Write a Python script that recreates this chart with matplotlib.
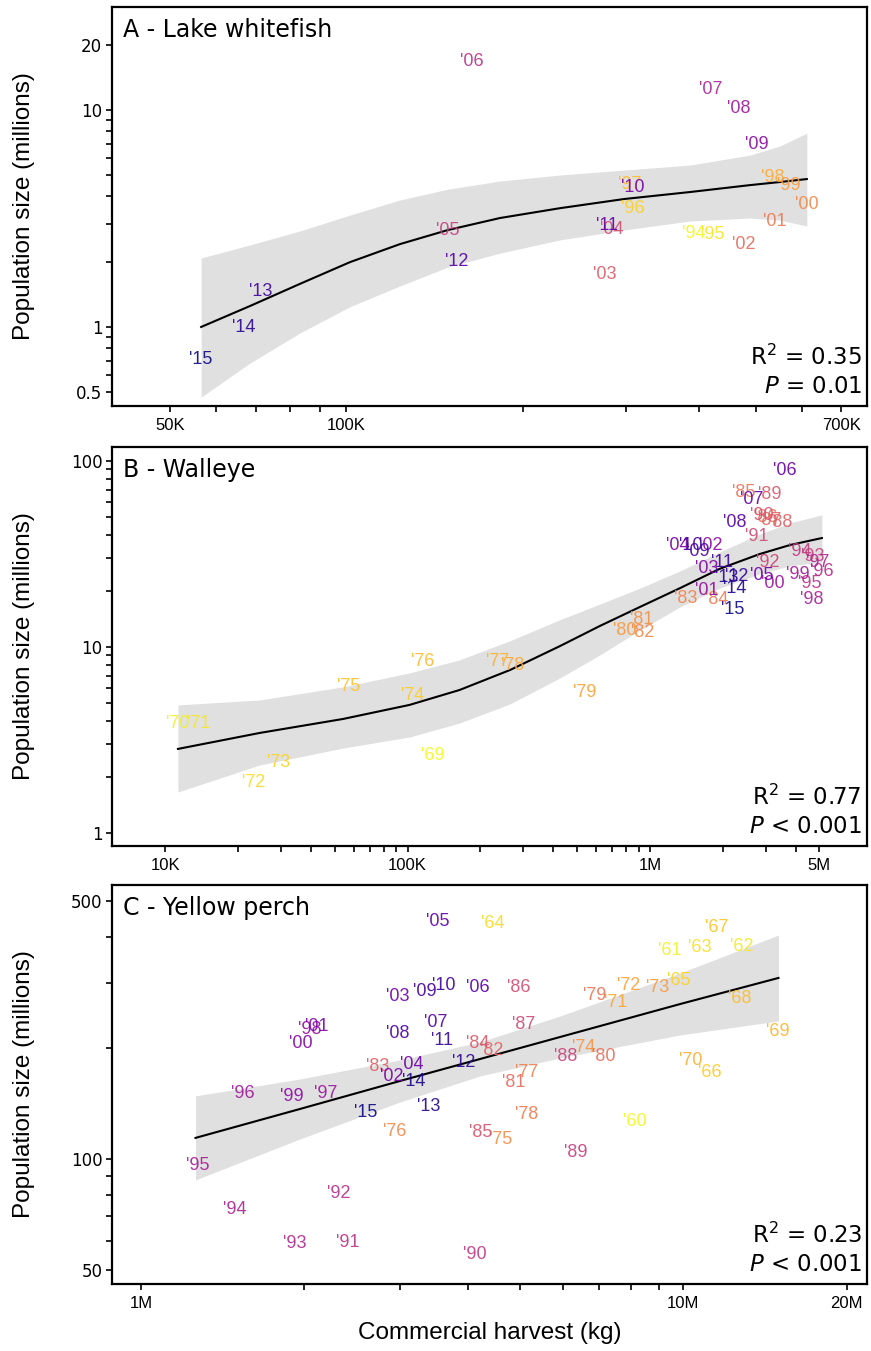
import matplotlib
matplotlib.use('Agg')
import matplotlib.pyplot as plt
import numpy as np
from matplotlib.ticker import FixedLocator, FixedFormatter, NullFormatter

# ---- A: lake whitefish ----
wf_year = list(range(1994, 2016))
wf_harvest = [392e3, 422e3, 308e3, 305e3, 535e3, 569e3, 611e3, 539e3, 477e3, 276e3, 284e3,
              149e3, 164e3, 418e3, 468e3, 502e3, 308e3, 278e3, 154e3, 71.5e3, 66.9e3, 56.5e3]
wf_pop = [2.71, 2.68, 3.53, 4.56, 4.91, 4.47, 3.69, 3.05, 2.41, 1.75, 2.83,
          2.80, 16.8, 12.4, 10.2, 6.97, 4.42, 2.95, 2.01, 1.45, 0.99, 0.705]
wf_fit_x = [56.5e3, 68.5e3, 83.3e3, 101.4e3, 123.4e3, 149.1e3, 182.9e3, 231.5e3,
            297.7e3, 385.8e3, 488.5e3, 549.5e3, 611e3]
wf_fit = [1.00, 1.25, 1.58, 1.99, 2.41, 2.80, 3.18, 3.53, 3.89, 4.19, 4.51, 4.66, 4.81]
wf_hi = [2.08, 2.39, 2.77, 3.28, 3.85, 4.32, 4.71, 5.02, 5.29, 5.58, 6.20, 6.83, 7.83]
wf_lo = [0.475, 0.682, 0.938, 1.24, 1.545, 1.89, 2.19, 2.52, 2.80, 3.08, 3.18, 3.11, 2.92]

# ---- B: walleye ----
we_year = list(range(1969, 2016))
we_harvest = [127e3, 11.3e3, 13.7e3, 23.1e3, 29.5e3, 105e3, 56.9e3, 115e3, 236e3, 272e3, 540e3,
              789e3, 927e3, 935e3, 1.41e6, 1.89e6, 2.44e6, 3.01e6, 3.13e6, 3.47e6, 3.13e6,
              2.90e6, 2.76e6, 3.07e6, 4.70e6, 4.16e6, 4.57e6, 5.12e6, 4.93e6, 4.66e6, 4.08e6,
              3.22e6, 1.72e6, 1.79e6, 1.72e6, 1.30e6, 2.90e6, 3.60e6, 2.63e6, 2.24e6, 1.58e6,
              1.48e6, 1.98e6, 2.28e6, 2.08e6, 2.24e6, 2.20e6]
we_pop = [2.62, 3.90, 3.90, 1.86, 2.38, 5.45, 6.10, 8.30, 8.30, 7.90, 5.66,
          12.3, 14.0, 12.0, 18.3, 17.9, 67.3, 49.4, 47.6, 46.4, 65.6,
          50.6, 39.0, 28.3, 30.5, 32.4, 21.8, 25.3, 28.6, 17.9, 24.4,
          21.8, 20.0, 34.9, 26.3, 34.9, 24.1, 88.3, 61.7, 46.4, 32.4,
          34.9, 28.6, 23.8, 23.5, 20.5, 15.8]
we_fit_x = [11.3e3, 24.6e3, 54.2e3, 102e3, 164e3, 265e3, 425e3, 622e3, 909e3,
            1.33e6, 1.94e6, 2.84e6, 3.78e6, 5.12e6]
we_fit = [2.83, 3.45, 4.10, 4.88, 5.87, 7.52, 10.1, 12.97, 16.4, 20.7, 26.3, 31.6, 35.3, 38.5]
we_hi = [4.88, 5.19, 6.10, 7.25, 8.52, 10.8, 14.0, 17.0, 20.7, 25.6, 32.4, 40.5, 46.4, 51.3]
we_lo = [1.66, 2.32, 2.86, 3.28, 3.90, 4.94, 6.81, 9.06, 12.3, 16.4, 20.7, 24.7, 27.3, 28.6]

# ---- C: yellow perch ----
yp_year = list(range(1960, 2016))
yp_harvest = [8.12e6, 9.42e6, 12.8e6, 10.7e6, 4.46e6, 9.79e6, 11.2e6, 11.5e6, 12.7e6, 14.9e6,
              10.3e6, 7.49e6, 7.92e6, 8.96e6, 6.54e6, 4.60e6, 2.94e6, 5.13e6, 5.15e6, 6.85e6,
              7.12e6, 4.86e6, 4.44e6, 2.73e6, 4.17e6, 4.22e6, 4.97e6, 5.07e6, 6.06e6, 6.32e6,
              4.13e6, 2.41e6, 2.31e6, 1.92e6, 1.49e6, 1.27e6, 1.54e6, 2.19e6, 2.05e6, 1.90e6,
              1.97e6, 2.11e6, 2.90e6, 2.97e6, 3.16e6, 3.52e6, 4.17e6, 3.50e6, 2.97e6, 3.34e6,
              3.61e6, 3.59e6, 3.93e6, 3.39e6, 3.18e6, 2.60e6]
yp_pop = [126, 368, 376, 373, 434, 304, 172, 423, 273, 222,
          185, 265, 296, 292, 200, 113, 119, 171, 132, 277,
          189, 161, 197, 178, 206, 118, 292, 231, 189, 104,
          54.9, 59.2, 80.4, 58.9, 72.7, 95.7, 150, 150, 224, 148,
          205, 228, 167, 275, 180, 441, 291, 234, 219, 285,
          296, 209, 182, 139, 162, 134]
yp_fit_x = [1.26e6, 1.965e6, 3.005e6, 4.22e6, 5.93e6, 9.87e6, 14.97e6]
yp_fit = [114.0, 136.6, 162.7, 186.6, 214.1, 263.0, 309.4]
yp_hi = [148.2, 164.7, 185.5, 207.5, 244.1, 319.2, 404.6]
yp_lo = [87.7, 113.3, 142.7, 167.9, 187.8, 216.8, 236.6]

W, H = 871, 1351
fig = plt.figure(figsize=(W / 100, H / 100), dpi=100)
cmap = plt.cm.plasma


def panel(top, bottom, title, year, harv, pop, fx, fy, fhi, flo, xlim, ylim,
          xmaj, xlab, xmin, ymaj, ylab, ymin, r2, pstr):
    ax = fig.add_axes([112 / W, (H - bottom) / H, 755 / W, (bottom - top) / H])
    ax.set_xscale('log')
    ax.set_yscale('log')
    ax.fill_between(fx, flo, fhi, color='#e0e0e0', lw=0, zorder=1)
    ax.plot(fx, fy, color='black', lw=1.5, zorder=2, solid_joinstyle='round')
    yr = np.array(year)
    t = (yr - yr.min()) / (yr.max() - yr.min())
    for y, x, p, tt in zip(year, harv, pop, t):
        ax.text(x, p, "'%02d" % (y % 100), color=cmap(1 - tt), ha='center', va='center',
                fontsize=13, family='Liberation Sans', alpha=0.9, zorder=3)
    ax.set_xlim(*xlim)
    ax.set_ylim(*ylim)
    ax.xaxis.set_major_locator(FixedLocator(xmaj))
    ax.xaxis.set_major_formatter(FixedFormatter(xlab))
    ax.xaxis.set_minor_locator(FixedLocator(xmin))
    ax.xaxis.set_minor_formatter(NullFormatter())
    ax.yaxis.set_major_locator(FixedLocator(ymaj))
    ax.yaxis.set_major_formatter(FixedFormatter(ylab))
    ax.yaxis.set_minor_locator(FixedLocator(ymin))
    ax.yaxis.set_minor_formatter(NullFormatter())
    ax.tick_params(which='both', length=4, width=1.2, color='black')
    ax.tick_params(axis='x', pad=5, labelsize=12)
    ax.tick_params(axis='y', pad=3, labelsize=12)
    for lb in ax.get_xticklabels():
        lb.set_family('Liberation Sans')
    for lb in ax.get_yticklabels():
        lb.set_family('DejaVu Sans')
    for s in ax.spines.values():
        s.set_linewidth(1.6)
    ax.text(0.0146, 0.972, title, transform=ax.transAxes, ha='left', va='top',
            fontsize=17, family='DejaVu Sans')
    ax.text(0.9934, 0.123, 'R$^2$ = ' + r2, transform=ax.transAxes, ha='right', va='center',
            fontsize=16.5, family='DejaVu Sans')
    ax.text(0.9934, 0.050, '$P$ ' + pstr, transform=ax.transAxes, ha='right', va='center',
            fontsize=16.5, family='DejaVu Sans')
    ax.set_ylabel('Population size (millions)', fontsize=17.5, family='Liberation Sans')
    ax.yaxis.set_label_coords(-0.102, 0.5)
    return ax


panel(7, 406, 'A - Lake whitefish', wf_year, wf_harvest, wf_pop,
      wf_fit_x, wf_fit, wf_hi, wf_lo, (39.8e3, 774e3), (0.432, 29.9),
      [5e4, 1e5, 7e5], ['50K', '100K', '700K'],
      [6e4, 7e4, 8e4, 9e4, 2e5, 3e5, 4e5, 5e5, 6e5],
      [0.5, 1, 10, 20], ['0.5', '1', '10', '20'],
      [0.6, 0.7, 0.8, 0.9, 2, 3, 4, 5, 6, 7, 8, 9],
      '0.35', '= 0.01')

panel(447, 846, 'B - Walleye', we_year, we_harvest, we_pop,
      we_fit_x, we_fit, we_hi, we_lo, (6.04e3, 7.86e6), (0.851, 118.8),
      [1e4, 1e5, 1e6, 5e6], ['10K', '100K', '1M', '5M'],
      [2e4, 3e4, 4e4, 5e4, 6e4, 7e4, 8e4, 9e4, 2e5, 3e5, 4e5, 5e5, 6e5, 7e5, 8e5, 9e5,
       2e6, 3e6, 4e6],
      [1, 10, 100], ['1', '10', '100'],
      [2, 3, 4, 5, 6, 7, 8, 9, 20, 30, 40, 50, 60, 70, 80, 90],
      '0.77', '< 0.001')

axc = panel(885, 1284, 'C - Yellow perch', yp_year, yp_harvest, yp_pop,
            yp_fit_x, yp_fit, yp_hi, yp_lo, (884e3, 21.8e6), (45.8, 552.7),
            [1e6, 1e7, 2e7], ['1M', '10M', '20M'],
            [2e6, 3e6, 4e6, 5e6, 6e6, 7e6, 8e6, 9e6],
            [50, 100, 500], ['50', '100', '500'],
            [60, 70, 80, 90, 200, 300, 400],
            '0.23', '< 0.001')
axc.set_xlabel('Commercial harvest (kg)', fontsize=17.5, family='Liberation Sans')
axc.xaxis.set_label_coords(0.5, -0.096)

fig.savefig('out.png', dpi=100)
